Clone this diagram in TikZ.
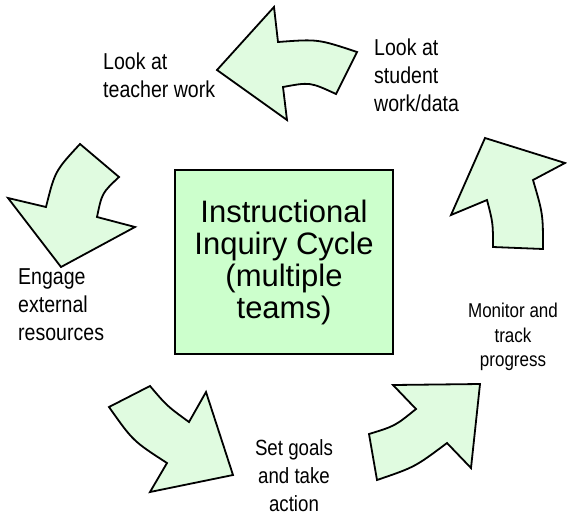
\documentclass[tikz,border=0pt]{standalone}
\usepackage{fontspec}
\setmainfont{Liberation Sans}
\newfontfamily\narrowfont[FakeStretch=0.85]{Liberation Sans}
\definecolor{boxgreen}{RGB}{204,255,204}
\definecolor{arrowgreen}{RGB}{224,251,224}
\begin{document}
\begin{tikzpicture}[x=1pt, y=-1pt,
		cyclearrow/.style={draw=black, fill=arrowgreen, line width=1.8pt, line join=miter},
		steplabel/.style={inner sep=0pt, font=\narrowfont\fontsize{23}{28}\selectfont}]
		\useasboundingbox (0, 0) rectangle (567, 520);
		% riquadro centrale
		\node[draw=black, fill=boxgreen, line width=1.8pt, minimum width=218pt, minimum height=184pt,
			align=center, font=\fontsize{31}{32}\selectfont] (cycle) at (284, 262)
			{Instructional\\Inquiry Cycle\\(multiple\\teams)};
		% etichette
		\node[steplabel, anchor=north west, align=left] (teacher) at (103, 53) {Look at\\teacher work};
		\node[steplabel, anchor=north west, align=left] (student) at (374, 39) {Look at\\student\\work/data};
		\node[steplabel, anchor=north west, align=left] (engage) at (18, 268) {Engage\\external\\resources};
		\node[steplabel, anchor=north, align=center, font=\narrowfont\fontsize{20}{24.5}\selectfont]
			(monitor) at (513, 303) {Monitor and\\track\\progress};
		\node[steplabel, anchor=north, align=center, font=\narrowfont\fontsize{22}{28}\selectfont]
			(goals) at (294, 439) {Set goals\\and take\\action};
		% freccia in alto
		\filldraw[cyclearrow]
		(217, 70) --
		(274, 7) --
		(278, 42) .. controls (318, 39) .. (357, 52) --
		(336, 94) .. controls (310, 82) .. (283, 87) --
		(287, 120) --
		cycle;
		% freccia a sinistra
		\filldraw[cyclearrow]
		(61, 267) --
		(8, 198) --
		(46, 207) .. controls (55, 171) .. (80, 144) --
		(119, 177) .. controls (102, 193) .. (97, 217) --
		(135, 227) --
		cycle;
		% freccia in basso a sinistra
		\filldraw[cyclearrow]
		(233, 475) --
		(206, 392) --
		(189, 422) .. controls (167, 406) .. (150, 386) --
		(109, 407) .. controls (133, 441) .. (167, 463) --
		(150, 492) --
		cycle;
		% freccia in basso a destra
		\filldraw[cyclearrow]
		(480, 384) --
		(393, 385) --
		(416, 409) .. controls (395, 426) .. (369, 434) --
		(377, 480) .. controls (415, 467) .. (447, 443) --
		(471, 468) --
		cycle;
		% freccia a destra
		\filldraw[cyclearrow]
		(485, 138) --
		(565, 163) --
		(533, 180) .. controls (543, 214) .. (543, 249) --
		(493, 247) .. controls (493, 223) .. (487, 200) --
		(451, 215) --
		cycle;
	\end{tikzpicture}
\end{document}
